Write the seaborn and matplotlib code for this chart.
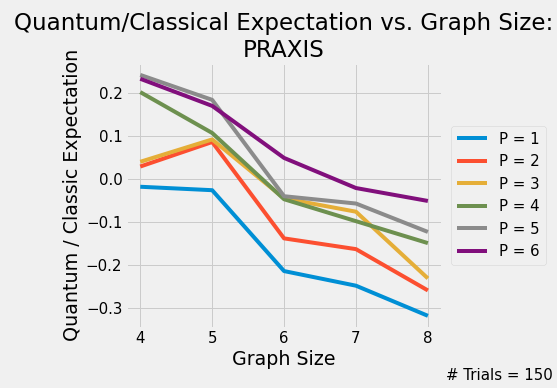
import pandas as pd
import numpy as np
import matplotlib.pyplot as plt
import seaborn as sns

# data
graph_sizes = [4, 5, 6, 7, 8]
p1 = [-0.018, -0.026, -0.214, -0.248, -0.318]
p2 = [0.029, 0.086, -0.138, -0.163, -0.259]
p3 = [0.040, 0.092, -0.045, -0.076, -0.231]
p4 = [0.202, 0.107, -0.047, -0.098, -0.149]
p5 = [0.242, 0.184, -0.040, -0.057, -0.123]
p6 = [0.233, 0.170, 0.049, -0.021, -0.051]
n_trials = 150

series = {'P = 1': p1, 'P = 2': p2, 'P = 3': p3,
          'P = 4': p4, 'P = 5': p5, 'P = 6': p6}
rows = []
for label, vals in series.items():
    for x, y in zip(graph_sizes, vals):
        rows.append({'Graph Size': x, 'ratio': y, 'P': label})
df = pd.DataFrame(rows)

plt.style.use('fivethirtyeight')
colors = ['#008fd5', '#fc4f30', '#e5ae38', '#6d904f', '#8b8b8b', '#810f7c']

fig, ax = plt.subplots(figsize=(557 / 72, 388 / 72), dpi=72)
fig.subplots_adjust(left=0.226, right=0.794, bottom=0.155, top=0.838)

sns.lineplot(data=df, x='Graph Size', y='ratio', hue='P', palette=colors,
             linewidth=4, ax=ax)

ax.set_xticks(graph_sizes)
ax.tick_params(labelsize=15)
ax.set_title('Quantum/Classical Expectation vs. Graph Size:\nPRAXIS', fontsize=23)
ax.set_xlabel('Graph Size', fontsize=19)
ax.set_ylabel('Quantum / Classic Expectation', fontsize=19)
ax.legend(loc='center left', bbox_to_anchor=(1.005, 0.5), title=None, fontsize=15)

fig.text(0.993, 0.012, '# Trials = %d' % n_trials, ha='right', va='bottom',
         fontsize=15)

plt.savefig('out.png', dpi=72, facecolor=fig.get_facecolor())
